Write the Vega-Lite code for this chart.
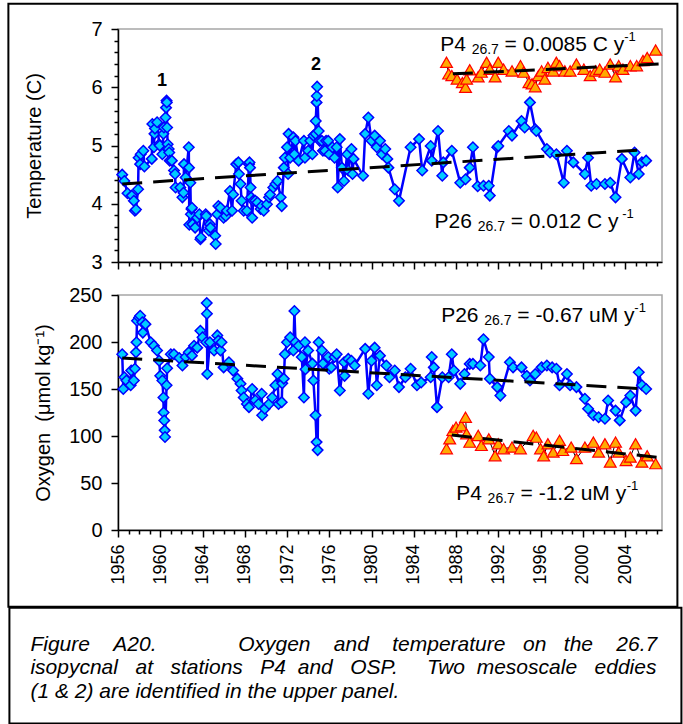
{
  "$schema": "https://vega.github.io/schema/vega-lite/v6.json",
  "background": "white",
  "padding": {"left": 7, "top": 2, "right": 0, "bottom": 0},
  "bounds": "flush",
  "spacing": 33,
  "config": {
    "font": "Liberation Sans",
    "axis": {"domainColor": "black", "tickColor": "black", "labelColor": "black", "titleColor": "black", "labelFont": "Liberation Sans", "titleFont": "Liberation Sans", "labelFontSize": 20, "titleFontSize": 20, "titleFontWeight": "normal", "grid": false, "domainWidth": 1.5, "tickWidth": 1.5, "labelFlush": false, "labelOverlap": false},
    "text": {"font": "Liberation Sans", "color": "black"}
  },
  "datasets": {
    "t26": [
      {"year":1956.4,"value":4.50},{"year":1956.6,"value":4.39},{"year":1956.9,"value":4.18},{"year":1957.3,"value":4.14},{"year":1957.5,"value":4.05},{"year":1957.6,"value":3.88},{"year":1957.7,"value":3.90},{"year":1957.9,"value":4.25},{"year":1957.95,"value":4.79},{"year":1958.1,"value":4.68},{"year":1958.15,"value":4.85},{"year":1958.4,"value":4.91},{"year":1958.5,"value":4.64},{"year":1959.2,"value":4.77},{"year":1959.25,"value":5.37},{"year":1959.4,"value":4.97},{"year":1959.45,"value":5.20},{"year":1959.5,"value":5.29},{"year":1959.7,"value":5.40},{"year":1959.9,"value":5.02},{"year":1959.95,"value":5.00},{"year":1960.2,"value":4.85},{"year":1960.3,"value":5.20},{"year":1960.35,"value":5.31},{"year":1960.5,"value":5.48},{"year":1960.55,"value":5.65},{"year":1960.6,"value":5.77},{"year":1960.62,"value":5.74},{"year":1960.65,"value":5.31},{"year":1960.7,"value":5.02},{"year":1960.8,"value":4.94},{"year":1960.85,"value":4.88},{"year":1960.9,"value":4.74},{"year":1961.1,"value":4.74},{"year":1961.3,"value":4.57},{"year":1961.4,"value":4.51},{"year":1961.45,"value":4.28},{"year":1961.9,"value":4.28},{"year":1962.1,"value":4.11},{"year":1962.2,"value":4.19},{"year":1962.25,"value":4.68},{"year":1962.4,"value":4.45},{"year":1962.7,"value":4.97},{"year":1962.72,"value":4.62},{"year":1962.75,"value":3.64},{"year":1962.85,"value":4.36},{"year":1962.9,"value":3.82},{"year":1962.95,"value":3.91},{"year":1963.0,"value":3.93},{"year":1963.05,"value":3.65},{"year":1963.3,"value":3.59},{"year":1963.5,"value":3.76},{"year":1963.7,"value":3.82},{"year":1963.8,"value":3.39},{"year":1963.85,"value":3.42},{"year":1964.3,"value":3.82},{"year":1964.35,"value":3.79},{"year":1964.6,"value":3.54},{"year":1964.7,"value":3.65},{"year":1964.75,"value":3.59},{"year":1965.2,"value":3.45},{"year":1965.25,"value":3.31},{"year":1965.4,"value":3.82},{"year":1965.5,"value":3.96},{"year":1965.7,"value":3.93},{"year":1966.0,"value":3.76},{"year":1966.2,"value":3.79},{"year":1966.3,"value":3.88},{"year":1966.6,"value":4.22},{"year":1966.8,"value":3.88},{"year":1966.9,"value":4.16},{"year":1967.2,"value":4.68},{"year":1967.4,"value":4.71},{"year":1967.45,"value":4.51},{"year":1967.6,"value":4.34},{"year":1967.7,"value":4.05},{"year":1967.9,"value":3.88},{"year":1968.2,"value":3.88},{"year":1968.4,"value":4.68},{"year":1968.45,"value":4.71},{"year":1968.5,"value":4.62},{"year":1968.55,"value":4.28},{"year":1968.6,"value":4.11},{"year":1968.7,"value":3.76},{"year":1968.8,"value":4.05},{"year":1969.0,"value":4.05},{"year":1969.2,"value":4.02},{"year":1969.5,"value":3.91},{"year":1969.6,"value":3.96},{"year":1969.8,"value":3.88},{"year":1970.1,"value":3.99},{"year":1970.3,"value":4.11},{"year":1970.4,"value":4.16},{"year":1970.7,"value":4.28},{"year":1970.9,"value":4.34},{"year":1971.1,"value":4.39},{"year":1971.4,"value":4.11},{"year":1971.5,"value":3.96},{"year":1971.7,"value":4.62},{"year":1971.8,"value":4.79},{"year":1972.0,"value":4.97},{"year":1972.1,"value":4.51},{"year":1972.15,"value":5.20},{"year":1972.3,"value":4.79},{"year":1972.6,"value":5.14},{"year":1972.7,"value":4.85},{"year":1972.8,"value":5.08},{"year":1973.1,"value":4.74},{"year":1973.6,"value":5.08},{"year":1973.7,"value":4.79},{"year":1974.0,"value":4.91},{"year":1974.2,"value":5.08},{"year":1974.4,"value":4.85},{"year":1974.5,"value":5.17},{"year":1974.7,"value":5.20},{"year":1974.72,"value":5.42},{"year":1974.8,"value":5.74},{"year":1974.82,"value":5.85},{"year":1974.85,"value":6.01},{"year":1975.0,"value":5.25},{"year":1975.1,"value":5.08},{"year":1975.3,"value":5.08},{"year":1975.4,"value":4.91},{"year":1975.6,"value":4.91},{"year":1975.7,"value":5.08},{"year":1975.9,"value":5.08},{"year":1976.0,"value":4.85},{"year":1976.3,"value":4.97},{"year":1976.5,"value":4.79},{"year":1976.7,"value":4.97},{"year":1976.8,"value":4.28},{"year":1977.0,"value":5.11},{"year":1977.2,"value":4.62},{"year":1977.4,"value":4.39},{"year":1977.7,"value":4.85},{"year":1977.8,"value":4.57},{"year":1978.1,"value":4.94},{"year":1978.2,"value":4.51},{"year":1978.3,"value":4.77},{"year":1979.2,"value":4.48},{"year":1979.4,"value":5.20},{"year":1979.7,"value":5.48},{"year":1980.0,"value":5.08},{"year":1980.3,"value":5.17},{"year":1980.5,"value":4.97},{"year":1980.8,"value":5.08},{"year":1981.0,"value":4.85},{"year":1981.3,"value":4.94},{"year":1981.5,"value":4.77},{"year":1981.6,"value":4.62},{"year":1982.2,"value":4.25},{"year":1982.6,"value":4.05},{"year":1983.7,"value":4.97},{"year":1984.5,"value":5.11},{"year":1984.8,"value":4.57},{"year":1985.6,"value":4.99},{"year":1985.7,"value":4.74},{"year":1986.3,"value":5.25},{"year":1986.7,"value":4.48},{"year":1986.8,"value":4.71},{"year":1987.6,"value":4.91},{"year":1988.4,"value":4.36},{"year":1988.9,"value":4.42},{"year":1989.3,"value":4.62},{"year":1989.6,"value":4.97},{"year":1990.05,"value":4.30},{"year":1990.6,"value":4.31},{"year":1991.1,"value":4.31},{"year":1991.2,"value":4.14},{"year":1991.9,"value":4.97},{"year":1992.0,"value":4.99},{"year":1993.0,"value":5.25},{"year":1993.3,"value":5.17},{"year":1994.2,"value":5.42},{"year":1994.5,"value":5.31},{"year":1995.0,"value":5.74},{"year":1995.5,"value":5.28},{"year":1995.6,"value":5.25},{"year":1996.6,"value":4.94},{"year":1996.9,"value":4.88},{"year":1997.5,"value":4.85},{"year":1998.2,"value":4.36},{"year":1998.5,"value":4.91},{"year":1999.1,"value":4.71},{"year":2000.2,"value":4.51},{"year":2000.5,"value":4.79},{"year":2000.8,"value":4.31},{"year":2001.3,"value":4.34},{"year":2002.1,"value":4.34},{"year":2002.6,"value":4.36},{"year":2003.1,"value":4.11},{"year":2003.7,"value":4.77},{"year":2004.5,"value":4.45},{"year":2004.9,"value":4.88},{"year":2005.3,"value":4.51},{"year":2005.6,"value":4.71},{"year":2006.0,"value":4.74}
    ],
    "t4": [
      {"year":1987.1,"value":6.43},{"year":1987.3,"value":6.23},{"year":1987.6,"value":6.20},{"year":1988.1,"value":6.14},{"year":1988.6,"value":6.08},{"year":1988.9,"value":6.00},{"year":1989.0,"value":6.14},{"year":1989.3,"value":6.30},{"year":1990.1,"value":6.18},{"year":1990.4,"value":6.26},{"year":1990.9,"value":6.43},{"year":1991.2,"value":6.31},{"year":1991.7,"value":6.18},{"year":1992.0,"value":6.43},{"year":1992.5,"value":6.31},{"year":1993.3,"value":6.28},{"year":1994.1,"value":6.37},{"year":1994.4,"value":6.26},{"year":1994.9,"value":6.08},{"year":1995.2,"value":6.06},{"year":1995.5,"value":6.01},{"year":1995.8,"value":6.20},{"year":1996.1,"value":6.28},{"year":1996.4,"value":6.14},{"year":1996.7,"value":6.34},{"year":1997.2,"value":6.28},{"year":1997.5,"value":6.43},{"year":1997.8,"value":6.37},{"year":1998.3,"value":6.28},{"year":1998.8,"value":6.28},{"year":1999.4,"value":6.40},{"year":2000.1,"value":6.31},{"year":2000.7,"value":6.20},{"year":2001.2,"value":6.28},{"year":2001.6,"value":6.31},{"year":2002.1,"value":6.26},{"year":2002.6,"value":6.40},{"year":2003.1,"value":6.18},{"year":2003.4,"value":6.37},{"year":2003.8,"value":6.31},{"year":2004.5,"value":6.37},{"year":2005.1,"value":6.37},{"year":2005.7,"value":6.46},{"year":2006.1,"value":6.51},{"year":2006.9,"value":6.64}
    ],
    "o26": [
      {"year":1956.4,"value":187},{"year":1956.5,"value":150},{"year":1956.6,"value":162.5},{"year":1956.8,"value":159},{"year":1957.2,"value":154},{"year":1957.25,"value":169.6},{"year":1957.5,"value":159},{"year":1957.6,"value":171.5},{"year":1957.7,"value":189},{"year":1957.75,"value":199.7},{"year":1957.8,"value":222.7},{"year":1958.0,"value":226},{"year":1958.1,"value":228},{"year":1958.3,"value":221},{"year":1958.35,"value":210},{"year":1958.6,"value":219},{"year":1959.1,"value":199.7},{"year":1959.4,"value":196},{"year":1959.7,"value":191},{"year":1959.9,"value":180},{"year":1960.0,"value":164},{"year":1960.2,"value":159},{"year":1960.3,"value":141},{"year":1960.32,"value":125},{"year":1960.38,"value":116.5},{"year":1960.42,"value":106},{"year":1960.45,"value":99},{"year":1960.6,"value":154},{"year":1960.65,"value":172},{"year":1961.0,"value":187},{"year":1961.3,"value":187},{"year":1961.8,"value":183},{"year":1962.1,"value":175},{"year":1962.4,"value":184},{"year":1962.7,"value":189},{"year":1963.0,"value":185.5},{"year":1963.2,"value":196},{"year":1963.5,"value":194},{"year":1963.8,"value":212},{"year":1964.0,"value":205},{"year":1964.35,"value":199.7},{"year":1964.4,"value":241.5},{"year":1964.42,"value":230},{"year":1964.45,"value":166},{"year":1964.7,"value":199.7},{"year":1965.1,"value":191},{"year":1965.4,"value":207},{"year":1965.5,"value":201.5},{"year":1965.7,"value":191},{"year":1965.8,"value":199.7},{"year":1966.0,"value":173},{"year":1966.5,"value":178.5},{"year":1966.9,"value":169.6},{"year":1967.3,"value":161},{"year":1967.6,"value":155.5},{"year":1967.7,"value":148.4},{"year":1967.9,"value":141},{"year":1968.2,"value":134},{"year":1968.4,"value":130.7},{"year":1968.7,"value":150},{"year":1969.0,"value":138},{"year":1969.3,"value":134},{"year":1969.6,"value":145},{"year":1969.65,"value":122},{"year":1969.9,"value":129},{"year":1970.3,"value":134},{"year":1970.6,"value":141},{"year":1970.9,"value":154},{"year":1971.1,"value":166},{"year":1971.2,"value":134},{"year":1971.5,"value":136},{"year":1971.55,"value":156},{"year":1971.7,"value":161},{"year":1971.8,"value":187},{"year":1972.0,"value":199.7},{"year":1972.3,"value":205},{"year":1972.6,"value":191},{"year":1972.7,"value":233},{"year":1972.8,"value":199.7},{"year":1973.1,"value":196},{"year":1973.4,"value":184},{"year":1973.6,"value":141},{"year":1973.7,"value":199.7},{"year":1973.75,"value":171},{"year":1974.0,"value":191},{"year":1974.4,"value":177},{"year":1974.5,"value":159},{"year":1974.7,"value":122},{"year":1974.8,"value":93.5},{"year":1974.9,"value":85},{"year":1975.0,"value":199.7},{"year":1975.3,"value":191},{"year":1975.4,"value":177},{"year":1975.9,"value":184},{"year":1976.0,"value":171.5},{"year":1976.2,"value":173},{"year":1976.5,"value":184},{"year":1976.7,"value":187},{"year":1977.0,"value":148.4},{"year":1977.4,"value":178.5},{"year":1977.45,"value":164},{"year":1977.8,"value":182},{"year":1978.1,"value":180},{"year":1978.4,"value":175},{"year":1979.4,"value":192.7},{"year":1979.7,"value":145},{"year":1980.0,"value":180},{"year":1980.3,"value":194},{"year":1980.5,"value":154},{"year":1980.8,"value":185.5},{"year":1981.4,"value":175},{"year":1981.7,"value":162.5},{"year":1982.2,"value":169.6},{"year":1982.6,"value":152},{"year":1983.2,"value":162.5},{"year":1983.7,"value":171.5},{"year":1984.3,"value":154},{"year":1984.7,"value":157},{"year":1985.6,"value":162.5},{"year":1985.7,"value":184},{"year":1985.9,"value":173},{"year":1986.2,"value":130.7},{"year":1986.7,"value":162.5},{"year":1987.3,"value":162.5},{"year":1987.6,"value":187},{"year":1987.8,"value":169.6},{"year":1988.4,"value":155.5},{"year":1988.8,"value":166},{"year":1989.3,"value":176.7},{"year":1989.6,"value":176.7},{"year":1990.3,"value":175},{"year":1990.6,"value":203},{"year":1991.1,"value":184},{"year":1991.2,"value":161},{"year":1991.9,"value":152},{"year":1992.2,"value":143},{"year":1993.1,"value":178.5},{"year":1993.4,"value":173},{"year":1994.2,"value":173},{"year":1994.7,"value":164},{"year":1995.0,"value":159},{"year":1995.5,"value":166},{"year":1996.1,"value":173},{"year":1996.6,"value":175},{"year":1997.1,"value":173},{"year":1997.5,"value":171.5},{"year":1997.8,"value":154},{"year":1998.5,"value":166},{"year":1998.8,"value":154},{"year":1999.4,"value":152},{"year":2000.2,"value":139.6},{"year":2000.5,"value":129},{"year":2001.0,"value":122},{"year":2001.5,"value":120},{"year":2002.1,"value":118.4},{"year":2002.4,"value":137.8},{"year":2003.1,"value":127},{"year":2003.5,"value":116.6},{"year":2004.1,"value":136},{"year":2004.5,"value":143},{"year":2005.0,"value":127},{"year":2005.3,"value":167.8},{"year":2005.6,"value":154},{"year":2006.0,"value":150}
    ],
    "o4": [
      {"year":1987.1,"value":86.5},{"year":1987.4,"value":97},{"year":1987.7,"value":106},{"year":1988.0,"value":109.5},{"year":1988.5,"value":111},{"year":1988.9,"value":120},{"year":1989.0,"value":102.4},{"year":1989.3,"value":93.5},{"year":1990.1,"value":100.6},{"year":1990.4,"value":90},{"year":1991.1,"value":97},{"year":1991.7,"value":79},{"year":1992.0,"value":91.8},{"year":1992.5,"value":86.5},{"year":1993.3,"value":88.2},{"year":1994.1,"value":86.5},{"year":1995.3,"value":100.6},{"year":1995.6,"value":98.8},{"year":1996.0,"value":86.5},{"year":1996.3,"value":79},{"year":1996.7,"value":91.8},{"year":1997.2,"value":83},{"year":1997.8,"value":95.4},{"year":1998.1,"value":84.7},{"year":1998.9,"value":88.2},{"year":1999.4,"value":76},{"year":2000.2,"value":88.2},{"year":2001.0,"value":93.5},{"year":2001.5,"value":83},{"year":2002.1,"value":91.8},{"year":2002.6,"value":72.3},{"year":2003.1,"value":93.5},{"year":2003.4,"value":83},{"year":2004.1,"value":74},{"year":2004.5,"value":77.6},{"year":2005.0,"value":91.8},{"year":2005.6,"value":72.3},{"year":2006.1,"value":79},{"year":2006.9,"value":70.6}
    ],
    "trend": [
      {"panel":"T","series":"P26","year":1956.4,"value":4.34},{"panel":"T","series":"P26","year":2006.0,"value":4.93},
      {"panel":"T","series":"P4","year":1987.7,"value":6.23},{"panel":"T","series":"P4","year":2007.3,"value":6.40},
      {"panel":"O","series":"P26","year":1956.4,"value":183},{"panel":"O","series":"P26","year":2006.0,"value":150},
      {"panel":"O","series":"P4","year":1987.6,"value":101},{"panel":"O","series":"P4","year":2007.3,"value":77}
    ],
    "labels": [
      {"panel":"T","part":"main","text":"P4","year":1986.5,"value":6.627},
      {"panel":"T","part":"sub","text":"26.7","year":1989.48,"value":6.627},
      {"panel":"T","part":"main","text":"= 0.0085 C y","year":1992.6,"value":6.627},
      {"panel":"T","part":"sup","text":"-1","year":2003.92,"value":6.627},
      {"panel":"T","part":"main","text":"P26","year":1985.96,"value":3.591},
      {"panel":"T","part":"sub","text":"26.7","year":1990.05,"value":3.591},
      {"panel":"T","part":"main","text":"= 0.012 C y","year":1993.17,"value":3.591},
      {"panel":"T","part":"sup","text":"-1","year":2003.74,"value":3.591},
      {"panel":"T","part":"bold","text":"1","year":1960.17,"value":6.026},
      {"panel":"T","part":"bold","text":"2","year":1974.75,"value":6.295},
      {"panel":"O","part":"main","text":"P26","year":1986.59,"value":220.9},
      {"panel":"O","part":"sub","text":"26.7","year":1990.67,"value":220.9},
      {"panel":"O","part":"main","text":"= -0.67 uM y","year":1993.8,"value":220.9},
      {"panel":"O","part":"sup","text":"-1","year":2004.88,"value":220.9},
      {"panel":"O","part":"main","text":"P4","year":1988.01,"value":31.6},
      {"panel":"O","part":"sub","text":"26.7","year":1990.99,"value":31.6},
      {"panel":"O","part":"main","text":"= -1.2 uM y","year":1994.11,"value":31.6},
      {"panel":"O","part":"sup","text":"-1","year":2004.16,"value":31.6}
    ],
    "caption": [
      {"line":1,"text":"Figure\u00a0\u00a0\u00a0\u00a0A20.\u00a0\u00a0\u00a0\u00a0\u00a0\u00a0\u00a0\u00a0\u00a0\u00a0\u00a0\u00a0\u00a0\u00a0Oxygen\u00a0\u00a0\u00a0\u00a0and\u00a0\u00a0\u00a0\u00a0temperature\u00a0\u00a0\u00a0on\u00a0\u00a0\u00a0the\u00a0\u00a0\u00a0\u00a026.7"},
      {"line":2,"text":"isopycnal\u00a0\u00a0\u00a0at\u00a0\u00a0\u00a0stations\u00a0\u00a0\u00a0P4\u00a0\u00a0and\u00a0\u00a0\u00a0OSP.\u00a0\u00a0\u00a0\u00a0\u00a0Two\u00a0\u00a0mesoscale\u00a0\u00a0\u00a0eddies"},
      {"line":3,"text":"(1 & 2) are identified in the upper panel."}
    ]
  },
  "vconcat": [
    {
      "width": 544,
      "height": 233,
      "view": {"stroke": "#a6a6a6", "strokeWidth": 1.5},
      "encoding": {
        "x": {"field": "year", "type": "quantitative", "scale": {"domain": [1956, 2007.5], "nice": false, "zero": false},
          "axis": {"values": [1956,1957,1958,1959,1960,1961,1962,1963,1964,1965,1966,1967,1968,1969,1970,1971,1972,1973,1974,1975,1976,1977,1978,1979,1980,1981,1982,1983,1984,1985,1986,1987,1988,1989,1990,1991,1992,1993,1994,1995,1996,1997,1998,1999,2000,2001,2002,2003,2004,2005,2006,2007],
            "labels": false, "title": null, "tickSize": {"condition": {"test": "datum.value % 4 === 0", "value": 7}, "value": 4}}},
        "y": {"field": "value", "type": "quantitative", "scale": {"domain": [3, 7], "nice": false, "zero": false},
          "axis": {"values": [3,3.2,3.4,3.6,3.8,4,4.2,4.4,4.6,4.8,5,5.2,5.4,5.6,5.8,6,6.2,6.4,6.6,6.8,7],
            "labelExpr": "datum.value % 1 === 0 ? format(datum.value, 'd') : ''",
            "tickSize": {"condition": {"test": "datum.value % 1 === 0", "value": 7}, "value": 4},
            "labelPadding": 9, "title": "Temperature (C)", "titlePadding": 46}}
      },
      "layer": [
        {"data": {"name": "t26"}, "mark": {"type": "line", "color": "#0000ff", "strokeWidth": 2.5}},
        {"data": {"name": "t26"}, "mark": {"type": "point", "shape": "diamond", "filled": true, "fill": "#00ccff", "stroke": "#0000ff", "strokeWidth": 1.5, "size": 110, "opacity": 1}},
        {"data": {"name": "t4"}, "mark": {"type": "line", "color": "black", "strokeWidth": 1}},
        {"data": {"name": "t4"}, "mark": {"type": "point", "shape": "triangle-up", "filled": true, "fill": "#ffaa00", "stroke": "#ff0000", "strokeWidth": 1.2, "size": 140, "opacity": 1}},
        {"data": {"name": "trend"}, "transform": [{"filter": "datum.panel === 'T'"}], "mark": {"type": "line", "color": "black", "strokeWidth": 3, "strokeDash": [20, 11]}, "encoding": {"detail": {"field": "series"}}},
        {"data": {"name": "labels"}, "transform": [{"filter": "datum.panel === 'T' && datum.part === 'main'"}], "mark": {"type": "text", "align": "left", "baseline": "alphabetic", "fontSize": 21}, "encoding": {"text": {"field": "text"}}},
        {"data": {"name": "labels"}, "transform": [{"filter": "datum.panel === 'T' && datum.part === 'sub'"}], "mark": {"type": "text", "align": "left", "baseline": "alphabetic", "fontSize": 14, "dy": 3}, "encoding": {"text": {"field": "text"}}},
        {"data": {"name": "labels"}, "transform": [{"filter": "datum.panel === 'T' && datum.part === 'sup'"}], "mark": {"type": "text", "align": "left", "baseline": "alphabetic", "fontSize": 13, "dy": -10}, "encoding": {"text": {"field": "text"}}},
        {"data": {"name": "labels"}, "transform": [{"filter": "datum.panel === 'T' && datum.part === 'bold'"}], "mark": {"type": "text", "align": "center", "baseline": "alphabetic", "fontSize": 18, "fontWeight": "bold"}, "encoding": {"text": {"field": "text"}}}
      ]
    },
    {
      "width": 544,
      "height": 235,
      "view": {"stroke": "#a6a6a6", "strokeWidth": 1.5},
      "encoding": {
        "x": {"field": "year", "type": "quantitative", "scale": {"domain": [1956, 2007.5], "nice": false, "zero": false},
          "axis": {"values": [1956,1957,1958,1959,1960,1961,1962,1963,1964,1965,1966,1967,1968,1969,1970,1971,1972,1973,1974,1975,1976,1977,1978,1979,1980,1981,1982,1983,1984,1985,1986,1987,1988,1989,1990,1991,1992,1993,1994,1995,1996,1997,1998,1999,2000,2001,2002,2003,2004,2005,2006,2007],
            "title": null, "labelExpr": "datum.value % 4 === 0 ? format(datum.value, 'd') : ''",
            "labelAngle": 270, "labelAlign": "right", "labelBaseline": "middle", "labelFontSize": 18, "labelPadding": 7,
            "tickSize": {"condition": {"test": "datum.value % 4 === 0", "value": 7}, "value": 4}}},
        "y": {"field": "value", "type": "quantitative", "scale": {"domain": [0, 250], "nice": false, "zero": false},
          "axis": {"values": [0,50,100,150,200,250], "tickSize": 7, "labelPadding": 9, "title": "Oxygen\u00a0\u00a0(\u03bcmol kg\u207b\u00b9)", "titlePadding": 15}}
      },
      "layer": [
        {"data": {"name": "o26"}, "mark": {"type": "line", "color": "#0000ff", "strokeWidth": 2.5}},
        {"data": {"name": "o26"}, "mark": {"type": "point", "shape": "diamond", "filled": true, "fill": "#00ccff", "stroke": "#0000ff", "strokeWidth": 1.5, "size": 110, "opacity": 1}},
        {"data": {"name": "o4"}, "mark": {"type": "line", "color": "black", "strokeWidth": 1}},
        {"data": {"name": "o4"}, "mark": {"type": "point", "shape": "triangle-up", "filled": true, "fill": "#ffaa00", "stroke": "#ff0000", "strokeWidth": 1.2, "size": 140, "opacity": 1}},
        {"data": {"name": "trend"}, "transform": [{"filter": "datum.panel === 'O'"}], "mark": {"type": "line", "color": "black", "strokeWidth": 3, "strokeDash": [20, 11]}, "encoding": {"detail": {"field": "series"}}},
        {"data": {"name": "labels"}, "transform": [{"filter": "datum.panel === 'O' && datum.part === 'main'"}], "mark": {"type": "text", "align": "left", "baseline": "alphabetic", "fontSize": 21}, "encoding": {"text": {"field": "text"}}},
        {"data": {"name": "labels"}, "transform": [{"filter": "datum.panel === 'O' && datum.part === 'sub'"}], "mark": {"type": "text", "align": "left", "baseline": "alphabetic", "fontSize": 14, "dy": 3}, "encoding": {"text": {"field": "text"}}},
        {"data": {"name": "labels"}, "transform": [{"filter": "datum.panel === 'O' && datum.part === 'sup'"}], "mark": {"type": "text", "align": "left", "baseline": "alphabetic", "fontSize": 13, "dy": -10}, "encoding": {"text": {"field": "text"}}}
      ]
    },
    {
      "width": 544,
      "height": 162,
      "view": {"stroke": null},
      "layer": [
        {"data": {"values": [{}]}, "mark": {"type": "rect", "fill": "white", "fillOpacity": 0, "stroke": "black", "strokeWidth": 2},
          "encoding": {
            "x": {"datum": -0.2015, "type": "quantitative", "scale": {"domain": [0, 1], "nice": false, "zero": false}, "axis": null},
            "x2": {"datum": 1.0283},
            "y": {"datum": -3.4525, "type": "quantitative", "scale": {"domain": [0, 1], "nice": false, "zero": false, "reverse": true}, "axis": null},
            "y2": {"datum": 0.2698}}},
        {"data": {"values": [{}]}, "mark": {"type": "rect", "fill": "white", "fillOpacity": 0, "stroke": "black", "strokeWidth": 2},
          "encoding": {
            "x": {"datum": -0.1996, "type": "quantitative", "scale": {"domain": [0, 1], "nice": false, "zero": false}, "axis": null},
            "x2": {"datum": 1.0357},
            "y": {"datum": 0.276, "type": "quantitative", "scale": {"domain": [0, 1], "nice": false, "zero": false, "reverse": true}, "axis": null},
            "y2": {"datum": 0.99}}},
        {"data": {"name": "caption"}, "mark": {"type": "text", "align": "left", "baseline": "alphabetic", "fontSize": 21, "fontStyle": "italic"},
          "encoding": {
            "x": {"datum": -0.161, "type": "quantitative", "scale": {"domain": [0, 1], "nice": false, "zero": false}, "axis": null},
            "y": {"field": "line", "type": "quantitative", "scale": {"domain": [-2.732, 4.162], "nice": false, "zero": false, "reverse": true}, "axis": null},
            "text": {"field": "text"}}}
      ],
      "resolve": {"scale": {"y": "independent"}}
    }
  ]
}
